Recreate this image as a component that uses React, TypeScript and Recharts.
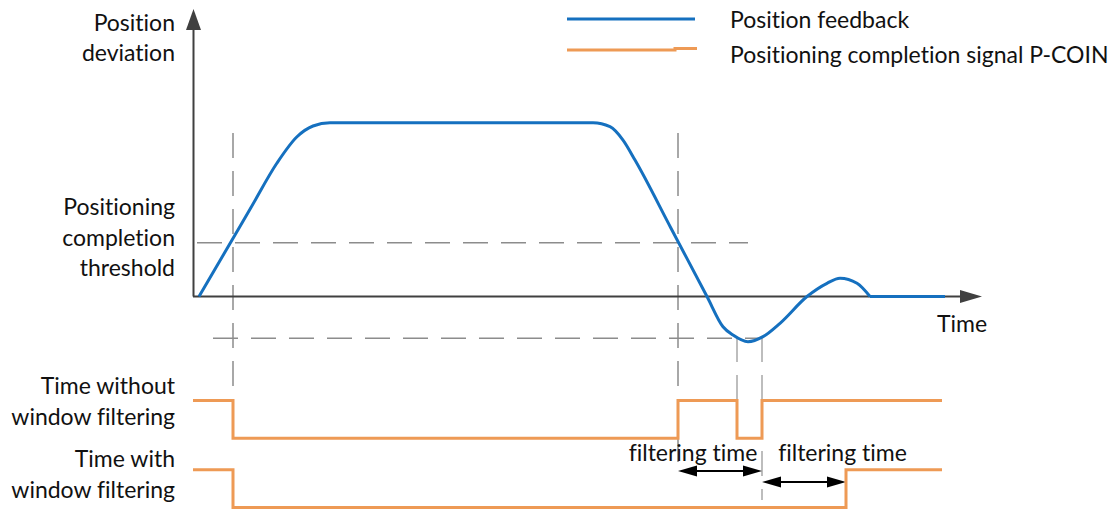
import React from "react"
import {
  ComposedChart,
  Line,
  XAxis,
  YAxis,
  ReferenceLine,
  ReferenceDot,
  Legend,
} from "recharts"

// position feedback curve (time units, deviation units: plateau = 100)
const FEEDBACK_T = [0, 2.5, 5.2, 7.8, 9.8, 11.4, 13.1, 39.4, 41.1, 42.4, 43.6, 47.2, 50.8, 52.4, 53.4, 54.9, 56.4, 58.1, 60.8, 62.8, 64.1, 65.8, 67.1, 74.6]
const FEEDBACK_DEV = [0, 24.6, 51.2, 76.8, 91.9, 98.1, 100, 100, 97.7, 90.0, 78.5, 39.3, 0, -17.4, -22.2, -26.0, -23.1, -15.4, 0, 7.6, 10.5, 7.6, 0, 0]
const SETTLED_FROM = 22 // index where the response has settled on zero

// P-COIN without window filtering (1 = high)
const RAW_T = [-0.6, 3.4, 47.9, 53.8, 56.3, 74.3]
const RAW_STATE = [1, 0, 1, 0, 1, 1]

// P-COIN with window filtering
const FILTERED_T = [-0.6, 3.4, 64.7, 74.3]
const FILTERED_STATE = [1, 0, 1, 1]

const THRESHOLD = 31
const NEG_THRESHOLD = -24
const EVENT_T = [3.4, 47.9, 53.8, 56.3, 64.7]

const SERIES_NAMES = ["Position feedback", "Positioning completion signal P-COIN"]

// layout
const W = 1114
const H = 511
const X_DOMAIN = [-19.9, 91.5]
const Y_DOMAIN = [-123.4, 170.6]
const RAW_LOW = -81.6
const FILTERED_LOW = -121.4
const SWING = 21.8

const BLUE = "#1570bf"
const ORANGE = "#ee9a55"
const AXIS = "#404040"
const DASH = "#8c8c8c"
const FONT = "Lato, 'Open Sans', sans-serif"
const FS = 23

const feedbackData = FEEDBACK_T.map((t, i) => ({ t, v: FEEDBACK_DEV[i] }))
const movingData = feedbackData.slice(0, SETTLED_FROM + 1)
const settledData = feedbackData.slice(SETTLED_FROM)
const rawData = RAW_T.map((t, i) => ({ t, v: RAW_LOW + RAW_STATE[i] * SWING }))
const filteredData = FILTERED_T.map((t, i) => ({ t, v: FILTERED_LOW + FILTERED_STATE[i] * SWING }))

function Arrow(props: any) {
  const { x1, y1, x2, y2, both, len, half, color, sw } = props
  const dx = x2 - x1
  const dy = y2 - y1
  const d = Math.hypot(dx, dy)
  const ux = dx / d
  const uy = dy / d
  const px = -uy * half
  const py = ux * half
  const head = (tx: number, ty: number, sx: number, sy: number) => {
    const bx = tx - sx * len
    const by = ty - sy * len
    return `${tx},${ty} ${bx + px},${by + py} ${bx - px},${by - py}`
  }
  const sx = both ? x1 + ux * len : x1
  const sy = both ? y1 + uy * len : y1
  return (
    <g>
      <line x1={sx} y1={sy} x2={x2 - ux * len} y2={y2 - uy * len} stroke={color} strokeWidth={sw} />
      <polygon points={head(x2, y2, ux, uy)} fill={color} />
      {both && <polygon points={head(x1, y1, -ux, -uy)} fill={color} />}
    </g>
  )
}

const textStyle = { fontVariantLigatures: "none" as const }

function TextBlock(props: any) {
  const { cx, cy, lines, anchor } = props
  return (
    <text x={cx} y={cy} textAnchor={anchor} fontFamily={FONT} fontSize={FS} fill="#111" style={textStyle}>
      {lines.map((l: string, i: number) => (
        <tspan key={i} x={cx} dy={i === 0 ? 0 : 30.5}>
          {l}
        </tspan>
      ))}
    </text>
  )
}

function LegendContent(props: any) {
  const items = (props.payload || []).filter((p: any) => p.type !== "none")
  return (
    <svg width={554} height={75} style={{ display: "block" }}>
      {items.map((p: any, i: number) => {
        const ly = i === 0 ? 19 : 50
        const ty = i === 0 ? 28 : 63
        return (
          <g key={i}>
            {i === 0 ? (
              <line x1={7} y1={ly} x2={135} y2={ly} stroke={p.color} strokeWidth={3} />
            ) : (
              <path d={`M7,${ly} H115 V${ly - 1.5} H137`} stroke={p.color} strokeWidth={3} fill="none" />
            )}
            <text x={170} y={ty} fontFamily={FONT} fontSize={FS} fill="#111" style={textStyle}>
              {p.value}
            </text>
          </g>
        )
      })}
    </svg>
  )
}

const dashed = { stroke: DASH, strokeWidth: 1.5, strokeDasharray: "25 13" }
const thin = { stroke: "#a8a8a8", strokeWidth: 1.5, strokeDasharray: "25 13" }

export default function App() {
  return (
    <div style={{ position: "absolute", left: 0, top: 0, width: W, height: H, background: "#fff" }}>
      <ComposedChart width={W} height={H} margin={{ top: 0, right: 0, bottom: 0, left: 0 }}>
        <XAxis type="number" dataKey="t" domain={X_DOMAIN} allowDataOverflow hide />
        <YAxis type="number" domain={Y_DOMAIN} allowDataOverflow hide />

        {/* guide lines */}
        <ReferenceLine segment={[{ x: EVENT_T[0], y: 94.1 }, { x: EVENT_T[0], y: -59.6 }]} {...dashed} />
        <ReferenceLine segment={[{ x: EVENT_T[1], y: 94.1 }, { x: EVENT_T[1], y: -96.9 }]} {...dashed} />
        <ReferenceLine segment={[{ x: EVENT_T[2], y: -23.3 }, { x: EVENT_T[2], y: -81.4 }]} {...thin} />
        <ReferenceLine segment={[{ x: EVENT_T[3], y: -23.3 }, { x: EVENT_T[3], y: -117.1 }]} {...thin} />
        <ReferenceLine segment={[{ x: -0.2, y: THRESHOLD }, { x: 54.9, y: THRESHOLD }]} {...dashed} />
        <ReferenceLine segment={[{ x: 1.4, y: NEG_THRESHOLD }, { x: 56.3, y: NEG_THRESHOLD }]} {...dashed} />

        {/* axes with arrow heads */}
        <ReferenceLine
          segment={[{ x: -0.55, y: 0 }, { x: -0.55, y: 165.4 }]}
          shape={(p: any) => <Arrow {...p} len={21} half={7.5} color={AXIS} sw={2} />}
        />
        <ReferenceLine
          segment={[{ x: -0.6, y: 0 }, { x: 78.3, y: 0 }]}
          shape={(p: any) => <Arrow {...p} len={22} half={6.5} color={AXIS} sw={2} />}
        />

        {/* filtering time arrows */}
        <ReferenceLine
          segment={[{ x: EVENT_T[1], y: -100.4 }, { x: EVENT_T[3], y: -100.4 }]}
          shape={(p: any) => <Arrow {...p} both len={19} half={5.5} color="#000" sw={2} />}
        />
        <ReferenceLine
          segment={[{ x: EVENT_T[3], y: -106.7 }, { x: EVENT_T[4], y: -106.7 }]}
          shape={(p: any) => <Arrow {...p} both len={19} half={5.5} color="#000" sw={2} />}
        />

        <Line
          data={movingData}
          dataKey="v"
          name={SERIES_NAMES[0]}
          type="monotone"
          stroke={BLUE}
          strokeWidth={3}
          dot={false}
          activeDot={false}
          isAnimationActive={false}
        />
        <Line
          data={settledData}
          dataKey="v"
          name="settled"
          legendType="none"
          type="linear"
          stroke={BLUE}
          strokeWidth={3}
          dot={false}
          activeDot={false}
          isAnimationActive={false}
        />
        <Line
          data={rawData}
          dataKey="v"
          name={SERIES_NAMES[1]}
          type="stepAfter"
          stroke={ORANGE}
          strokeWidth={3}
          dot={false}
          activeDot={false}
          isAnimationActive={false}
        />
        <Line
          data={filteredData}
          dataKey="v"
          name="filtered"
          legendType="none"
          type="stepAfter"
          stroke={ORANGE}
          strokeWidth={3}
          dot={false}
          activeDot={false}
          isAnimationActive={false}
        />

        {/* labels */}
        <ReferenceDot x={-2.4} y={152.8} shape={(p: any) => <TextBlock {...p} anchor="end" lines={["Position", "deviation"]} />} />
        <ReferenceDot x={-2.4} y={46.9} shape={(p: any) => <TextBlock {...p} anchor="end" lines={["Positioning", "completion", "threshold"]} />} />
        <ReferenceDot x={-2.4} y={-56.1} shape={(p: any) => <TextBlock {...p} anchor="end" lines={["Time without", "window filtering"]} />} />
        <ReferenceDot x={-2.4} y={-98.1} shape={(p: any) => <TextBlock {...p} anchor="end" lines={["Time with", "window filtering"]} />} />
        <ReferenceDot x={73.8} y={-20.4} shape={(p: any) => <TextBlock {...p} anchor="start" lines={["Time"]} />} />
        <ReferenceDot x={49.4} y={-94.7} shape={(p: any) => <TextBlock {...p} anchor="middle" lines={["filtering time"]} />} />
        <ReferenceDot x={64.35} y={-94.7} shape={(p: any) => <TextBlock {...p} anchor="middle" lines={["filtering time"]} />} />

        <Legend
          layout="horizontal"
          align="center"
          verticalAlign="middle"
          wrapperStyle={{ top: 0, left: 560, width: 554, height: 75 }}
          content={LegendContent}
        />
      </ComposedChart>
    </div>
  )
}
